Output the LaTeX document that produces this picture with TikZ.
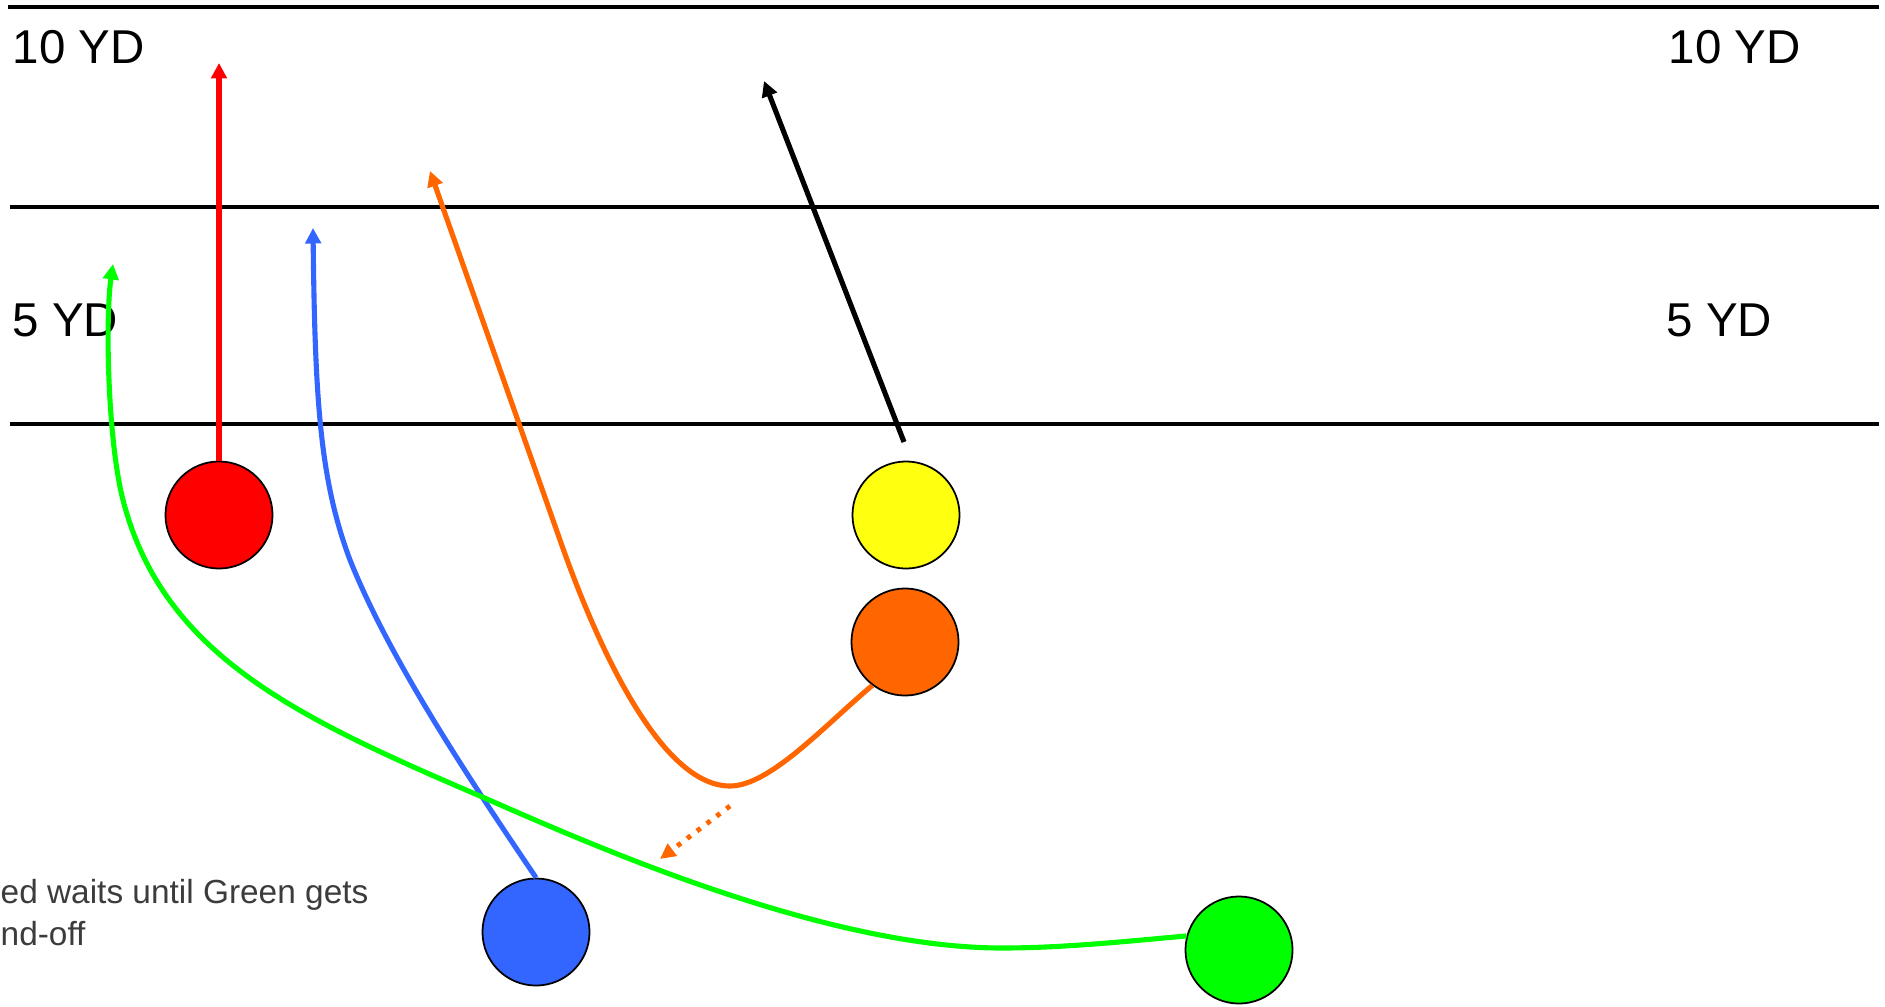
\documentclass[tikz,border=0pt]{standalone}
\usepackage{fontspec}
\setmainfont{Liberation Sans}
\usetikzlibrary{arrows.meta}

\definecolor{pRed}{HTML}{FF0000}
\definecolor{pYellow}{HTML}{FFFF10}
\definecolor{pOrange}{HTML}{FF6600}
\definecolor{pBlue}{HTML}{3366FF}
\definecolor{pGreen}{HTML}{00FF00}
\definecolor{noteGray}{HTML}{3C3C3C}

\tikzset{
  player/.style={circle, draw=black, line width=0.5pt, minimum size=1.07cm, inner sep=0pt},
  route/.style={line width=1.45pt, -{Triangle[length=4.4pt,width=4.4pt]}},
  handoff/.style={pOrange, line width=1.4pt, dash pattern=on 1.3pt off 2.2pt, -{Triangle[length=4.4pt,width=4.2pt]}},
  yardline/.style={line width=0.9pt},
  yardlabel/.style={anchor=base west, inner sep=0pt, font=\fontsize{13.5}{16}\selectfont},
  notetext/.style={anchor=base west, inner sep=0pt, text=noteGray, font=\fontsize{9.5}{11}\selectfont},
}

\begin{document}
\begin{tikzpicture}[x=0.01cm, y=-0.01cm]
    \useasboundingbox (0,0) rectangle (1885,1006);

    % Yard lines
    \draw[yardline] (8,7) -- (1879,7);
    \draw[yardline] (10,207) -- (1879,207);
    \draw[yardline] (10,424) -- (1879,424);

    % Yard labels
    \node[yardlabel] (tenL) at (12,64) {10 YD};
    \node[yardlabel] (tenR) at (1668,64) {10 YD};
    \node[yardlabel] (fiveL) at (12,336) {5 YD};
    \node[yardlabel] (fiveR) at (1666,336) {5 YD};

    % Note
    \node[notetext] (noteA) at (0,903) {ed waits until Green gets};
    \node[notetext] (noteB) at (0,945) {nd-off};

    % Players
    \node[player, fill=pRed] (red) at (219,515) {};
    \node[player, fill=pYellow] (yellow) at (906,515) {};
    \node[player, fill=pOrange] (orange) at (905,642) {};
    \node[player, fill=pBlue] (blue) at (536,932) {};
    \node[player, fill=pGreen] (green) at (1239,950) {};

    % Route ends
    \coordinate (redEnd) at (219,63);
    \coordinate (yellowStart) at (904,442);
    \coordinate (yellowEnd) at (764,81);
    \coordinate (orangeEnd) at (430,171);
    \coordinate (blueEnd) at (313,228);
    \coordinate (greenEnd) at (113,264);
    \coordinate (pitchStart) at (730,806);
    \coordinate (pitchEnd) at (660,859);

    % Routes
    \draw[route, pRed] (red.north) -- (redEnd);
    \draw[route, black] (yellowStart) -- (yellowEnd);
    \draw[route, pOrange] (orange.233) .. controls (825,725) and (770,786) .. (730,786)
        .. controls (660,786) and (596,643) .. (560,540) -- (orangeEnd);
    \draw[route, pBlue] (blue.north) .. controls (470,780) and (390,660) .. (350,560)
        .. controls (320,480) and (315,400) .. (blueEnd);
    \draw[route, pGreen] (green.165) .. controls (1120,942) and (1060,948) .. (1002,948)
        .. controls (820,948) and (581,840) .. (480,796)
        .. controls (296,717) and (163,655) .. (123,500)
        .. controls (108,442) and (105,320) .. (greenEnd);

    % Hand-off
    \draw[handoff] (pitchStart) -- (pitchEnd);
\end{tikzpicture}
\end{document}
